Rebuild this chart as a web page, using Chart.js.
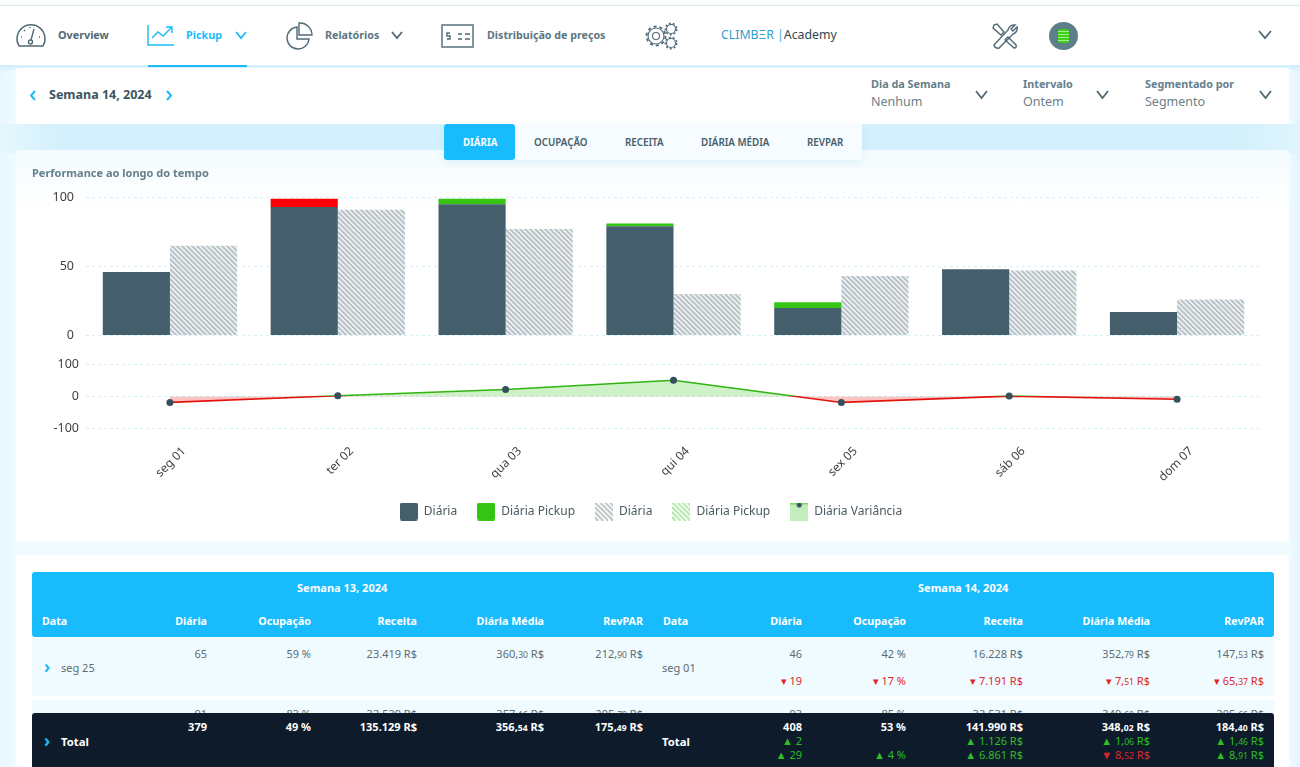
<!DOCTYPE html>
<html lang="pt-BR">
<head>
<meta charset="utf-8">
<title>Pickup</title>
<script src="https://cdn.jsdelivr.net/npm/chart.js@4/dist/chart.umd.min.js"></script>
<style>
  html, body { margin: 0; padding: 0; width: 1300px; height: 767px; overflow: hidden; }
  body { position: relative; font-family: "Noto Sans", sans-serif; color: #45606b;
         background: linear-gradient(90deg, #e6f7fe 0, #f0fbff 16px, #f0fbff 1289px, #e0f5fd 1300px); }
  .box { position: absolute; }
  .txt { position: absolute; white-space: nowrap; line-height: 1; }
  .txt small { font-size: 0.78em; }
  svg { position: absolute; fill: none; stroke: #4f6a76; stroke-width: 1.4; }
  #output { position: absolute; left: 16px; top: 150px; }
</style>
</head>
<body>
<div class="box" style="left:0;top:0;width:1300px;height:5px;background:#fff"></div>
<div class="box" style="left:0;top:5px;width:1300px;height:1px;background:#e6e9ea"></div>
<div class="box" style="left:0;top:6px;width:1300px;height:59px;background:#fff;box-shadow:0 2px 6px rgba(120,200,235,.35)"></div>
<div class="box" style="left:148px;top:65px;width:99px;height:2px;background:#1bbcf5"></div>
<div class="box" style="left:0;top:124px;width:1300px;height:30px;background:linear-gradient(90deg,#e6f7fe 0,#d3f0fc 60px,#d3f0fc 1240px,#e0f5fd 1300px)"></div>
<div class="box" style="left:16px;top:68px;width:1273px;height:56px;background:#fff;border-radius:2px"></div>
<div class="box" style="left:16px;top:150px;width:1273px;height:392px;background:linear-gradient(180deg,#f4fbfe 0,#fff 60px);border-radius:3px"></div>
<div class="box" style="left:16px;top:555px;width:1273px;height:212px;background:#fff;border-radius:3px"></div>
<div class="box" style="left:444px;top:124px;width:418px;height:36px;background:#f6fcff;box-shadow:0 3px 8px rgba(130,200,235,.2)"></div>
<div class="box" style="left:444px;top:124px;width:71px;height:36px;background:#18bcfd;border-radius:3px"></div>

<!-- nav icons -->
<svg style="left:15px;top:22px" width="32" height="26" viewBox="0 0 32 26"><path d="M4 24 A14 14 0 1 1 28 24 Z"/><path d="M16 18 L19 7"/><circle cx="15.5" cy="20" r="2"/><path d="M6 15h1M9 8l1 1M15 5v1M24 15h1"/></svg>
<svg style="left:147px;top:24px;stroke:#1bbcf5" width="28" height="23" viewBox="0 0 28 23"><path d="M1 1 V21 H27"/><path d="M5 14 L11 8 L16 12 L24 4 M19 3h6v6"/></svg>
<svg style="left:234px;top:31px;stroke:#1bbcf5;stroke-width:1.8" width="14" height="9" viewBox="0 0 14 9"><path d="M2 1 L7 7 L12 1"/></svg>
<svg style="left:285px;top:22px" width="28" height="28" viewBox="0 0 28 28"><path d="M12 5 A11 11 0 1 0 24 17 H12 Z"/><path d="M14 1 A12 12 0 0 1 27 13 H14 Z"/></svg>
<svg style="left:390px;top:31px;stroke-width:1.8" width="14" height="9" viewBox="0 0 14 9"><path d="M2 1 L7 7 L12 1"/></svg>
<svg style="left:441px;top:24px" width="33" height="24" viewBox="0 0 33 24"><rect x="1" y="1" width="31" height="22"/><path d="M17 10h4M24 10h5M17 15h4M24 15h5M9 9h-3v3h3v3h-3"/></svg>
<svg style="left:645px;top:22px;stroke-width:1.1" width="34" height="28" viewBox="0 0 34 28"><circle cx="11" cy="14" r="8"/><circle cx="11" cy="14" r="9.5" stroke-dasharray="3 3" stroke-width="1.8"/><circle cx="11" cy="14" r="3.5"/><circle cx="26" cy="7" r="4.5"/><circle cx="26" cy="7" r="5.7" stroke-dasharray="2 2" stroke-width="1.5"/><circle cx="26" cy="21" r="4.5"/><circle cx="26" cy="21" r="5.7" stroke-dasharray="2 2" stroke-width="1.5"/></svg>
<svg style="left:991px;top:22px" width="28" height="28" viewBox="0 0 28 28"><path d="M3 3 L6 2 L13 10 L10 13 L2 6 Z M17 15 L25 23 Q26 26 23 26 L14 18 Z"/><path d="M24 3 L20 7 L22 9 L26 5 Q27 10 22 12 L8 26 Q4 27 3 23 L17 8 Q18 3 24 3 Z"/></svg>
<div class="box" style="left:1049px;top:22px;width:29px;height:28px;border-radius:50%;background:#5c7f8a"></div>
<div class="box" style="left:1058px;top:29px;width:11px;height:14px;background:repeating-linear-gradient(0deg,#3fd116 0 2px,#a5ec8f 2px 3px);border-radius:2px"></div>
<svg style="left:1258px;top:30px;stroke-width:1.8" width="14" height="10" viewBox="0 0 14 10"><path d="M1 1 L7 8 L13 1"/></svg>
<svg style="left:29px;top:90px;stroke:#1bbcf5;stroke-width:2" width="8" height="11" viewBox="0 0 8 11"><path d="M6 1 L2 5.5 L6 10"/></svg>
<svg style="left:165px;top:90px;stroke:#1bbcf5;stroke-width:2" width="8" height="11" viewBox="0 0 8 11"><path d="M2 1 L6 5.5 L2 10"/></svg>
<svg style="left:975px;top:90px;stroke-width:1.8" width="13" height="10" viewBox="0 0 13 10"><path d="M1 1 L6.5 8 L12 1"/></svg>
<svg style="left:1096px;top:90px;stroke-width:1.8" width="13" height="10" viewBox="0 0 13 10"><path d="M1 1 L6.5 8 L12 1"/></svg>
<svg style="left:1259px;top:90px;stroke-width:1.8" width="13" height="10" viewBox="0 0 13 10"><path d="M1 1 L6.5 8 L12 1"/></svg>

<canvas id="output" width="1273" height="392"></canvas>

<div class="box" style="left:32px;top:572px;width:1242px;height:65px;background:#18bcfd;border-radius:3px"></div>
<div class="box" style="left:32px;top:637px;width:1242px;height:59px;background:#f0fbff"></div>
<div class="box" style="left:32px;top:700px;width:1242px;height:20px;background:#f0fbff"></div>
<div id="table"></div>
<div class="box" id="totalBar" style="left:32px;top:713px;width:1242px;height:54px;background:#0d1b2a;border-radius:3px 3px 0 0"></div>
<div id="total"></div>

<script>
// chart values
const categories = ['seg 01', 'ter 02', 'qua 03', 'qui 04', 'sex 05', 'sáb 06', 'dom 07'];
const diaria = [46, 93, 95, 79, 20, 48, 17];
const diariaPickup = [0, 6, 4, 2, 4, 0, 0];
const pickupCaiu = [false, true, false, false, false, false, false];
const diariaAnterior = [65, 91, 77, 30, 43, 47, 26];
const diariaPickupAnterior = [0, 0, 0, 0, 0, 0, 0];
const diariaVariancia = [-19, 2, 22, 51, -19, 1, -9];
const ticksDiaria = [0, 50, 100];
const ticksVariancia = [-100, 0, 100];
const legendLabels = ['Diária', 'Diária Pickup', 'Diária', 'Diária Pickup', 'Diária Variância'];

// table values
const colsLeft = [207, 311, 417, 544, 643];
const colsRight = [802, 906, 1023, 1150, 1264];
const headers = ['Diária', 'Ocupação', 'Receita', 'Diária Média', 'RevPAR'];
const rowSeg25 = ['65', '59 %', '23.419 R$', '360,<small>30</small> R$', '212,<small>90</small> R$'];
const rowSeg01 = ['46', '42 %', '16.228 R$', '352,<small>79</small> R$', '147,<small>53</small> R$'];
const rowSeg01Delta = ['▾ 19', '▾ 17 %', '▾ 7.191 R$', '▾ 7,<small>51</small> R$', '▾ 65,<small>37</small> R$'];
const rowTer26 = ['91', '83 %', '32.539 R$', '357,<small>16</small> R$', '295,<small>79</small> R$'];
const rowTer02 = ['93', '85 %', '32.531 R$', '349,<small>60</small> R$', '295,<small>66</small> R$'];
const totalLeft = ['379', '49 %', '135.129 R$', '356,<small>54</small> R$', '175,<small>49</small> R$'];
const totalRight = ['408', '53 %', '141.990 R$', '348,<small>02</small> R$', '184,<small>40</small> R$'];
const totalDelta1 = ['▲ 2', '', '▲ 1.126 R$', '▲ 1,<small>06</small> R$', '▲ 1,<small>46</small> R$'];
const totalDelta2 = ['▲ 29', '▲ 4 %', '▲ 6.861 R$', '▼ 8,<small>52</small> R$', '▲ 8,<small>91</small> R$'];

const DARK = '#445f6b';
const GREEN = '#34c414';
const RED = '#fe0000';

function put(x, y, html, size, color, weight, right, parent) {
    const d = document.createElement('div');
    d.className = 'txt';
    d.innerHTML = html;
    d.style.top = (y - size * 0.55) + 'px';
    d.style.fontSize = size + 'px';
    d.style.color = color;
    d.style.fontWeight = weight || 400;
    if (right) d.style.right = (1300 - x) + 'px';
    else d.style.left = x + 'px';
    (parent || document.body).appendChild(d);
}

// nav and filters
put(58, 36, 'Overview', 10.8, '#4f6a76', 700);
put(186, 36, 'Pickup', 10.8, '#1bbcf5', 700);
put(325, 36, 'Relatórios', 10.7, '#5b7682', 700);
put(487, 36, 'Distribuição de preços', 10.7, '#5b7682', 700);
put(721, 36, 'CLIMB<span style="letter-spacing:0">ΞR</span> <span style="color:#3fa9d8">|</span><span style="color:#2f4650">Academy</span>', 12.3, '#2fa0cf', 400);
put(49, 96, 'Semana 14, 2024', 12.5, '#3b5561', 700);
put(871, 85, 'Dia da Semana', 10.8, '#64808c', 700);
put(871, 103, 'Nenhum', 12.5, '#6d7f87');
put(1023, 85, 'Intervalo', 10.8, '#64808c', 700);
put(1023, 103, 'Ontem', 12.5, '#6d7f87');
put(1145, 85, 'Segmentado por', 10.8, '#64808c', 700);
put(1145, 103, 'Segmento', 12.5, '#6d7f87');
put(463, 143, 'DIÁRIA', 9.7, '#fff', 700);
put(534, 143, 'OCUPAÇÃO', 9.8, '#45606b', 600);
put(625, 143, 'RECEITA', 9.8, '#45606b', 600);
put(701, 143, 'DIÁRIA MÉDIA', 9.8, '#45606b', 600);
put(807, 143, 'REVPAR', 9.8, '#45606b', 600);
put(32, 173, 'Performance ao longo do tempo', 11, '#64808c', 700);

// table
const table = document.getElementById('table');
const total = document.getElementById('total');
put(297, 588.5, 'Semana 13, 2024', 11, '#fff', 700, false, table);
put(918, 588.5, 'Semana 14, 2024', 11, '#fff', 700, false, table);
put(42, 622, 'Data', 10.7, '#fff', 700, false, table);
put(663, 622, 'Data', 10.7, '#fff', 700, false, table);
put(61, 668, 'seg 25', 11, '#5d6b72', 400, false, table);
put(662, 668, 'seg 01', 11, '#5d6b72', 400, false, table);
put(44, 667, '<span style="color:#1bbcf5;font-weight:700">›</span>', 17, '#1bbcf5', 400, false, table);
put(44, 741, '<span style="font-weight:700">›</span>', 17, '#1bbcf5', 400, false, total);
put(61, 742, 'Total', 11.3, '#fff', 700, false, total);
put(662, 742, 'Total', 11.3, '#fff', 700, false, total);

headers.forEach((h, i) => {
    put(colsLeft[i], 622, h, 10.7, '#fff', 700, true, table);
    put(colsRight[i], 622, h, 10.7, '#fff', 700, true, table);
    put(colsLeft[i], 654, rowSeg25[i], 11, '#5d6b72', 400, true, table);
    put(colsRight[i], 654, rowSeg01[i], 11, '#5d6b72', 400, true, table);
    put(colsRight[i], 681.5, rowSeg01Delta[i], 11, '#e0262b', 400, true, table);
    put(colsLeft[i], 714, rowTer26[i], 11, '#5d6b72', 400, true, table);
    put(colsRight[i], 714, rowTer02[i], 11, '#5d6b72', 400, true, table);
    put(colsLeft[i], 727.5, totalLeft[i], 11, '#fff', 700, true, total);
    put(colsRight[i], 727.5, totalRight[i], 11, '#fff', 700, true, total);
    put(colsRight[i], 741.5, totalDelta1[i], 11, '#2fbf25', 400, true, total);
    const d2 = totalDelta2[i];
    put(colsRight[i], 755.5, d2, 11, d2.startsWith('▼') ? '#e0262b' : '#2fbf25', 400, true, total);
});

// hatch tile, used for the bars and the legend
function makeHatch(stripe, back, size, width) {
    const tile = document.createElement('canvas');
    tile.width = tile.height = size;
    const c = tile.getContext('2d');
    if (back) { c.fillStyle = back; c.fillRect(0, 0, size, size); }
    c.strokeStyle = stripe;
    c.lineWidth = width;
    for (const o of [-size, 0, size]) {
        c.beginPath();
        c.moveTo(o - 1, -1);
        c.lineTo(o + size + 1, size + 1);
        c.stroke();
    }
    return tile;
}

function hatchPattern(stripe, back, size, width) {
    return document.createElement('canvas').getContext('2d')
        .createPattern(makeHatch(stripe, back, size, width), 'repeat');
}

function legendIcon(draw) {
    const icon = document.createElement('canvas');
    icon.width = icon.height = 18;
    draw(icon.getContext('2d'));
    return icon;
}

function solidIcon(color) {
    return legendIcon(c => {
        c.fillStyle = color;
        c.beginPath();
        c.roundRect(0, 0, 18, 18, 2);
        c.fill();
    });
}

function hatchIcon(color) {
    return legendIcon(c => {
        c.strokeStyle = color;
        c.lineWidth = 1.6;
        for (let o = -15; o < 18; o += 5) {
            c.beginPath();
            c.moveTo(o, 0);
            c.lineTo(o + 18, 18);
            c.stroke();
        }
    });
}

const legendIcons = [
    solidIcon(DARK),
    solidIcon(GREEN),
    hatchIcon('#b3b9bc'),
    hatchIcon('#a5e09a'),
    legendIcon(c => {
        c.fillStyle = '#c4edbd';
        c.fillRect(0, 0, 18, 18);
        c.strokeStyle = GREEN;
        c.beginPath(); c.moveTo(0, 1); c.lineTo(18, 1); c.stroke();
        c.fillStyle = '#35505c';
        c.beginPath(); c.arc(9, 2.5, 2.5, 0, Math.PI * 2); c.fill();
    })
];

// line turns red under zero
function varianceLineColor(context) {
    const chart = context.chart;
    const axis = chart.scales.y2;
    if (!chart.chartArea || !axis) return GREEN;
    const grad = chart.ctx.createLinearGradient(0, axis.top, 0, axis.bottom);
    const stop = (axis.getPixelForValue(0) - axis.top) / (axis.bottom - axis.top);
    grad.addColorStop(0, '#2fb411');
    grad.addColorStop(stop, '#2fb411');
    grad.addColorStop(stop, '#e3120c');
    grad.addColorStop(1, '#e3120c');
    return grad;
}

const gridStyle = { color: '#d9eff6', lineWidth: 1, drawTicks: false };
const gridBorder = { display: false };

function fixedTicks(values) {
    return axis => { axis.ticks = values.map(v => ({ value: v })); };
}

const ctx = document.getElementById('output').getContext('2d');

new Chart(ctx, {
    data: {
        labels: categories,
        datasets: [
            { type: 'bar', label: legendLabels[0], data: diaria, stack: 'atual', yAxisID: 'y', backgroundColor: DARK },
            { type: 'bar', label: legendLabels[1], data: diariaPickup, stack: 'atual', yAxisID: 'y',
              backgroundColor: pickupCaiu.map(c => c ? RED : GREEN) },
            { type: 'bar', label: legendLabels[2], data: diariaAnterior, stack: 'anterior', yAxisID: 'y',
              backgroundColor: hatchPattern('#b4bec3', '#eef1f2', 5, 1.7) },
            { type: 'bar', label: legendLabels[3], data: diariaPickupAnterior, stack: 'anterior', yAxisID: 'y',
              backgroundColor: hatchPattern('#a5e09a', '#eef9ec', 5, 1.7) },
            { type: 'line', label: legendLabels[4], data: diariaVariancia, yAxisID: 'y2',
              borderColor: varianceLineColor, borderWidth: 1.6, tension: 0,
              pointRadius: 3.5, pointBackgroundColor: '#35505c', pointBorderWidth: 0,
              fill: { target: { value: 0 }, above: 'rgba(52,196,20,0.24)', below: 'rgba(254,0,0,0.24)' } }
        ]
    },
    options: {
        responsive: false,
        animation: false,
        layout: { padding: { top: 47.3, left: 25, right: 28, bottom: 14.5 } },
        datasets: { bar: { categoryPercentage: 0.8, barPercentage: 1 } },
        plugins: {
            tooltip: { enabled: false },
            legend: {
                position: 'bottom',
                labels: {
                    usePointStyle: true,
                    pointStyleWidth: 18,
                    boxWidth: 18,
                    boxHeight: 18,
                    padding: 20,
                    color: '#4a5a62',
                    font: { family: '"Noto Sans"', size: 12 },
                    generateLabels: chart => chart.data.datasets.map((ds, i) => ({
                        text: ds.label, pointStyle: legendIcons[i], datasetIndex: i,
                        fontColor: '#4a5a62', lineWidth: 0
                    }))
                }
            }
        },
        scales: {
            x: {
                stacked: true,
                grid: { display: false },
                border: { display: false },
                afterFit: axis => { axis.height = 57.4; },
                ticks: {
                    minRotation: 45,
                    maxRotation: 45,
                    labelOffset: 14,
                    padding: 8,
                    color: '#3f3f3f',
                    font: { family: '"Noto Sans"', size: 12 }
                }
            },
            y: {
                stacked: true,
                min: 0,
                max: 100,
                position: 'left',
                stack: 'painel',
                stackWeight: 138,
                weight: 2,
                grid: gridStyle,
                border: { ...gridBorder, dash: [3, 3] },
                afterBuildTicks: fixedTicks(ticksDiaria),
                afterFit: axis => { axis.width = 45; },
                ticks: { padding: 12, color: '#3f3f3f', font: { family: '"Noto Sans"', size: 12.5 } }
            },
            y2: {
                min: -100,
                max: 192,
                position: 'left',
                stack: 'painel',
                stackWeight: 92.4,
                weight: 1,
                grid: gridStyle,
                border: { ...gridBorder, dash: [3, 3] },
                afterBuildTicks: fixedTicks(ticksVariancia),
                afterFit: axis => { axis.width = 45; },
                ticks: { padding: 7, color: '#3f3f3f', font: { family: '"Noto Sans"', size: 12.5 } }
            }
        }
    }
});
</script>
</body>
</html>
